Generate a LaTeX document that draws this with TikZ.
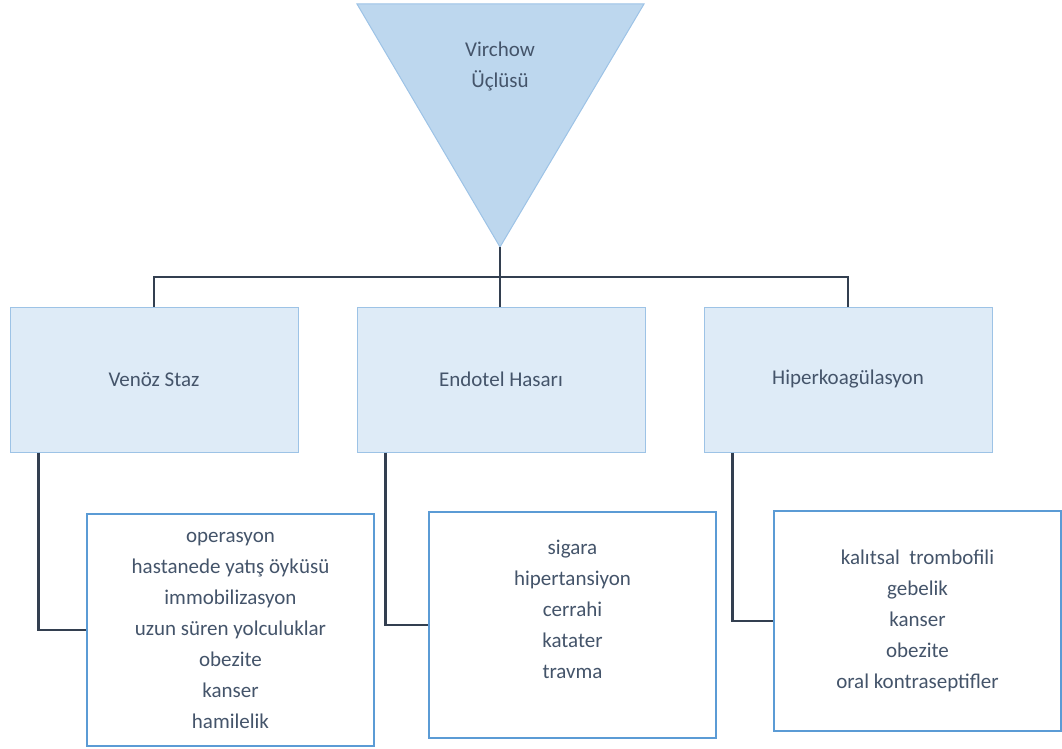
\documentclass[tikz,border=0pt]{standalone}
\usepackage{fontspec}
\setmainfont{Carlito}
\usepackage{xcolor}
\usepackage{tikz}
\usetikzlibrary{positioning, calc}
\definecolor{txtcol}{HTML}{44546A}
\definecolor{trifill}{HTML}{BDD7EE}
\definecolor{boxfill}{HTML}{DEEBF7}
\definecolor{lightedge}{HTML}{9DC3E6}
\definecolor{darkedge}{HTML}{5B9BD5}
\definecolor{linkcol}{HTML}{333F50}

\begin{document}
\begin{tikzpicture}[x=1pt, y=-1pt]
\tikzset{
    cause/.style={draw=lightedge, fill=boxfill, line width=1pt, minimum width=288pt, minimum height=145pt},
    risk/.style={draw=darkedge, fill=white, line width=2pt, minimum width=287pt, align=center},
    link/.style={draw=linkcol, line width=2.5pt}
    %tri/.style={fill=trifill, draw=lightedge},
}
\useasboundingbox (0,0) rectangle (1062,749);
\tikzset{every node/.style={text=txtcol, font=\fontsize{21}{31}\selectfont}}

  % triangle
  \filldraw[fill=trifill, draw=lightedge, line width=1pt] (357,4) -- (644,4) -- (500,247) -- cycle;
  \coordinate (apex) at (500,247);
  \coordinate (bar) at (500,277);
  \node[align=center] (virchow) at (500,66) {Virchow\\Üçlüsü};

  \node[cause] (venoz) at (154,379.5) {Venöz Staz};
  \node[cause, right=58pt of venoz] (endotel) {Endotel Hasarı};
  \node[cause, right=58pt of endotel] (hiper) {Hiperkoagülasyon};

  \node[risk, minimum height=232pt] (risk1) at (230.5,630)
    {operasyon\\hastanede yatış öyküsü\\immobilizasyon\\uzun süren yolculuklar\\obezite\\kanser\\hamilelik};
  \node[risk, minimum height=226pt] (risk2) at (572.5,625)
    {sigara\\hipertansiyon\\cerrahi\\katater\\travma\\\mbox{}};
  \node[risk, minimum height=220pt] (risk3) at (917.5,621)
    {kalıtsal\ \ trombofili\\gebelik\\kanser\\obezite\\oral kontraseptifler};

  \draw[link] (apex) -- (bar);
  \draw[link] (venoz.north) |- (bar) -| (hiper.north);
  \draw[link] (bar) -- (bar |- endotel.north);
%  \draw[link] (bar) -- (hiper.north);
  \draw[link] ([xshift=29pt]venoz.south west) |- (risk1.west);
  \draw[link] ([xshift=29pt]endotel.south west) |- (risk2.west);
  \draw[link] ([xshift=29pt]hiper.south west) |- (risk3.west);
\end{tikzpicture}
\end{document}
